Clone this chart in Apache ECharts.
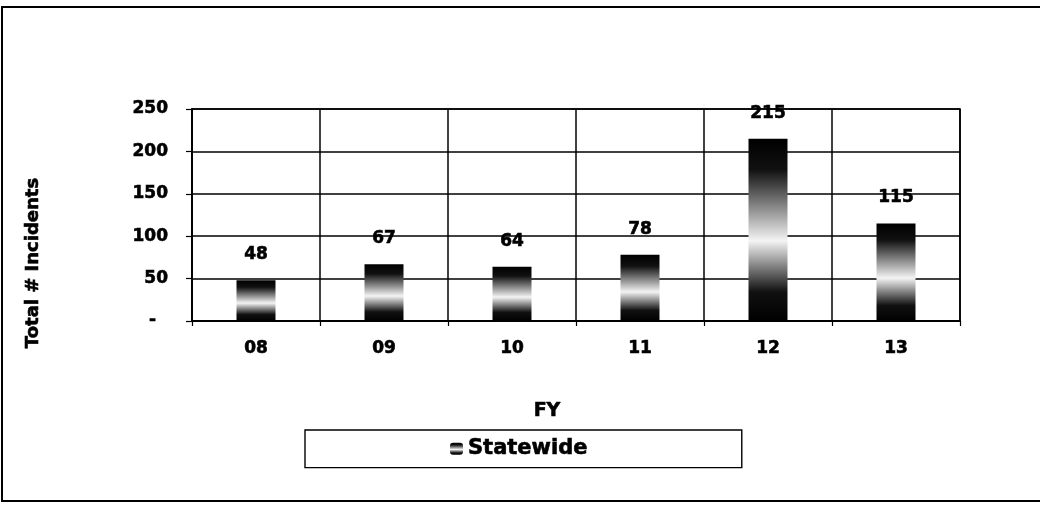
<!DOCTYPE html>
<html>
<head>
<meta charset="utf-8">
<script src="https://cdn.jsdelivr.net/npm/echarts@6/dist/echarts.min.js"></script>
<style>html,body{margin:0;padding:0;background:#fff}#c{width:1040px;height:507px}</style>
</head>
<body>
<div id="c"></div>
<script>
var categories = ['08', '09', '10', '11', '12', '13'];
var statewide = [48, 67, 64, 78, 215, 115];
var seriesName = 'Statewide';
var yTicks = [0, 50, 100, 150, 200, 250];

var FONT = '"DejaVu Sans", sans-serif';
var HEAVY = {textBorderColor: '#000', textBorderWidth: 0.6};
var chart = echarts.init(document.getElementById('c'));
var barGrad = new echarts.graphic.LinearGradient(0, 0, 0, 1, [
  {offset: 0, color: '#000'},
  {offset: 0.17, color: '#111'},
  {offset: 0.56, color: '#f4f4f4'},
  {offset: 0.84, color: '#111'},
  {offset: 1, color: '#000'}
]);
chart.setOption({
  animation: false,
  backgroundColor: '#fff',
  textStyle: {fontFamily: FONT},
  grid: {left: 192, right: 80, top: 109, bottom: 186, show: true, borderColor: '#000', borderWidth: 1.6, containLabel: false},
  xAxis: {
    type: 'category',
    data: categories,
    axisLine: {lineStyle: {color: '#000', width: 1.8}},
    axisTick: {show: true, inside: false, length: 5, lineStyle: {color: '#000', width: 1.2}},
    axisLabel: Object.assign({color: '#000', fontFamily: FONT, fontWeight: 'bold', fontSize: 17, margin: 19}, HEAVY),
    splitLine: {show: true, lineStyle: {color: '#000', width: 1.5}}
  },
  yAxis: {
    type: 'value',
    min: yTicks[0],
    max: yTicks[yTicks.length - 1],
    interval: 50,
    axisLine: {show: true, lineStyle: {color: '#000', width: 1.8}},
    axisTick: {show: true, length: 6, lineStyle: {color: '#000', width: 1.2}},
    axisLabel: Object.assign({
      color: '#000', fontFamily: FONT, fontWeight: 'bold', fontSize: 17, margin: 24,
      formatter: function (v) { return v === 0 ? '-  ' : String(v); }
    }, HEAVY),
    splitLine: {show: true, lineStyle: {color: '#000', width: 1.5}}
  },
  legend: {
    show: true,
    data: [seriesName],
    left: 305,
    top: 430,
    orient: 'horizontal',
    icon: 'roundRect',
    itemWidth: 13,
    itemHeight: 12,
    borderColor: '#000',
    borderWidth: 1.4,
    borderRadius: 0,
    padding: [8, 154, 8, 145],
    textStyle: Object.assign({color: '#000', fontFamily: FONT, fontWeight: 'bold', fontSize: 21}, HEAVY)
  },
  graphic: [
    {type: 'rect', shape: {x: 2, y: 7, width: 1045, height: 494}, style: {fill: null, stroke: '#000', lineWidth: 2}, silent: true, z: -1},
    {type: 'text', x: 33, y: 263, rotation: Math.PI / 2, style: {text: 'Total # Incidents', fill: '#000', font: 'bold 18px ' + FONT, textAlign: 'center', textVerticalAlign: 'middle', stroke: '#000', lineWidth: 0.6}},
    {type: 'text', x: 547, y: 411, style: {text: 'FY', fill: '#000', font: 'bold 19px ' + FONT, textAlign: 'center', textVerticalAlign: 'middle', stroke: '#000', lineWidth: 0.6}}
  ],
  series: [{
    name: seriesName,
    type: 'bar',
    data: statewide,
    barWidth: 39,
    itemStyle: {color: barGrad},
    label: Object.assign({show: true, position: 'top', distance: 17, color: '#000', fontFamily: FONT, fontWeight: 'bold', fontSize: 17}, HEAVY)
  }]
});
</script>
</body>
</html>
